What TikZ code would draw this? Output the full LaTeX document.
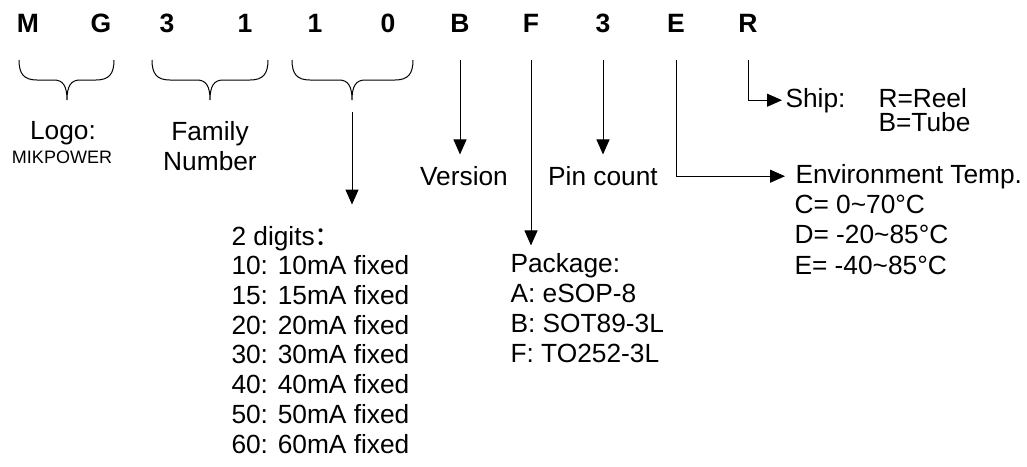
\documentclass[tikz,border=0pt]{standalone}
\usepackage{fontspec}
\setmainfont{Liberation Sans}
\newfontfamily\cjkfont{Noto Sans CJK SC}
\usetikzlibrary{arrows.meta, positioning, calc}

\begin{document}
\begin{tikzpicture}[x=1pt, y=-1pt, line width=1pt,
    letter/.style={font=\fontsize{26.5}{30}\selectfont\bfseries, anchor=base, inner sep=0pt},
    txt/.style={font=\fontsize{26.3}{30}\selectfont, inner sep=0pt},
    arr/.style={-{Triangle[length=15pt, width=13pt]}}]
\useasboundingbox (0,0) rectangle (1027,466);

% part number letters
\foreach \ch/\x [count=\i] in {M/28, G/101, 3/167, 1/245, 1/315, 0/388, B/460, F/531, 3/603, E/676, R/748}
    \node[letter] (c\i) at (\x,32) {\ch};

% braces under the grouped letters
\foreach \l/\m/\r [count=\i] in {19/67/114, 152/210/268, 292/352/413} {
    \draw (\l,60) .. controls (\l,74) and (\l+5,80) .. (\l+18,80)
        -- (\m-13,80) .. controls (\m-4,80) and (\m,86) .. (\m,100)
        .. controls (\m,86) and (\m+4,80) .. (\m+13,80)
        -- (\r-18,80) .. controls (\r-5,80) and (\r,74) .. (\r,60);
    \coordinate (b\i) at (\m,100);
}

% labels (multi-line nodes sit on their last baseline)
\node[txt, anchor=base] (logo) at (63,139) {Logo:};
\node[txt, anchor=base, font=\fontsize{18}{20}\selectfont] (logosub) at (62,163) {MIKPOWER};
\node[txt, anchor=base, align=center] (family) at (210,170) {Family\\Number};
\node[txt, anchor=base west, align=left, font=\fontsize{26.3}{29.7}\selectfont] (digits) at (231,453)
    {2 digits{\cjkfont ：}\\10: 10mA fixed\\15: 15mA fixed\\20: 20mA fixed\\30: 30mA fixed\\40: 40mA fixed\\50: 50mA fixed\\60: 60mA fixed};
\node[txt, anchor=base] (version) at (464,185) {Version};
\node[txt, anchor=base] (pin) at (603,185) {Pin count};
\node[txt, anchor=base west, align=left] (pkg) at (510,362) {Package:\\A: eSOP-8\\B: SOT89-3L\\F: TO252-3L};
\node[txt, anchor=base west] (ship) at (785,107) {Ship:};
\node[txt, anchor=base west, align=left, font=\fontsize{26.3}{24}\selectfont] (shipopt) at (878,131) {R=Reel\\B=Tube};
\node[txt, anchor=base west] (env) at (795,183) {Environment Temp.};
\node[txt, anchor=base west, align=left, font=\fontsize{26.3}{30.5}\selectfont] (envopt) at (794,274)
    {C= 0\textasciitilde70°C\\D= -20\textasciitilde85°C\\E= -40\textasciitilde85°C};

% arrows
\draw[arr, shorten >=21pt] ([yshift=-12pt]b3) -- (b3 |- digits.north);
\draw[arr, shorten >=11pt] (c7 |- 0,60) -- (c7 |- version.north);
\draw[arr, shorten >=7pt] (c8 |- 0,60) -- (c8 |- pkg.north);
\draw[arr, shorten >=11pt] (c9 |- 0,60) -- (c9 |- pin.north);
\draw[arr, shorten >=10pt] (c10 |- 0,60) |- (env.west);
\draw[arr, shorten >=3pt] (c11 |- 0,60) |- (ship.west);
\end{tikzpicture}
\end{document}
